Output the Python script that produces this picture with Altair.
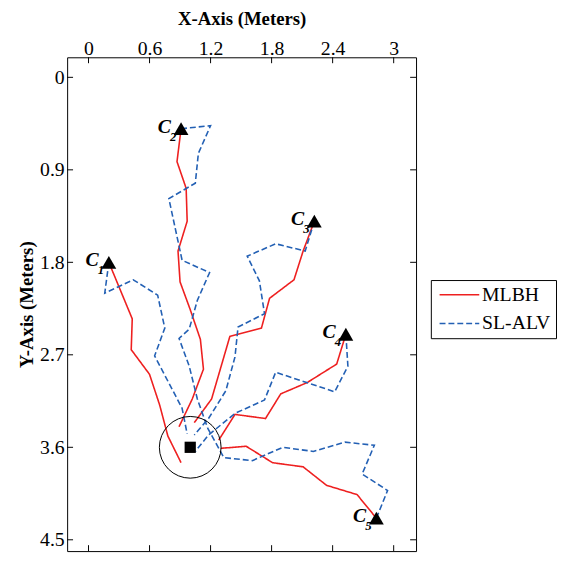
import altair as alt
import pandas as pd

# ---------------- data (meters) ----------------
X_TICKS = [0, 0.6, 1.2, 1.8, 2.4, 3]
Y_TICKS = [0, 0.9, 1.8, 2.7, 3.6, 4.5]

# MLBH paths (solid red)
mlbh_c1_x = [0.20, 0.43, 0.42, 0.60, 0.70, 0.78, 0.91]
mlbh_c1_y = [1.80, 2.35, 2.65, 2.89, 3.19, 3.49, 3.75]
mlbh_c2_x = [0.91, 0.87, 0.96, 0.97, 0.88, 0.90, 1.00, 1.10, 1.13, 1.02, 0.89]
mlbh_c2_y = [0.50, 0.82, 1.08, 1.40, 1.69, 1.99, 2.26, 2.55, 2.84, 3.13, 3.40]
mlbh_c3_x = [2.22, 2.11, 2.02, 1.78, 1.70, 1.39, 1.21, 1.04]
mlbh_c3_y = [1.40, 1.69, 1.97, 2.15, 2.44, 2.52, 3.13, 3.36]
mlbh_c4_x = [2.53, 2.44, 2.15, 1.89, 1.74, 1.44, 1.28]
mlbh_c4_y = [2.50, 2.79, 2.97, 3.08, 3.32, 3.28, 3.53]
mlbh_c5_x = [2.83, 2.64, 2.34, 2.11, 1.81, 1.55, 1.30]
mlbh_c5_y = [4.29, 4.06, 3.97, 3.79, 3.75, 3.59, 3.61]

# SL-ALV paths (dashed blue)
slalv_c1_x = [0.20, 0.16, 0.44, 0.68, 0.75, 0.65, 0.92, 0.97]
slalv_c1_y = [1.80, 2.10, 1.97, 2.12, 2.44, 2.71, 3.22, 3.47]
slalv_c2_x = [0.91, 1.20, 1.08, 1.05, 0.79, 0.92, 1.19, 1.07, 0.99, 0.89, 0.99, 1.07, 1.17]
slalv_c2_y = [0.50, 0.47, 0.74, 1.03, 1.18, 1.78, 1.90, 2.17, 2.45, 2.54, 2.81, 3.13, 3.41]
slalv_c3_x = [2.22, 2.13, 1.84, 1.56, 1.68, 1.73, 1.47, 1.44, 1.35, 1.18, 1.04]
slalv_c3_y = [1.40, 1.69, 1.62, 1.74, 1.98, 2.30, 2.43, 2.72, 3.05, 3.32, 3.48]
slalv_c4_x = [2.53, 2.55, 2.42, 1.84, 1.73, 1.44, 1.18, 1.05]
slalv_c4_y = [2.50, 2.81, 3.06, 2.87, 3.14, 3.27, 3.48, 3.64]
slalv_c5_x = [2.83, 2.94, 2.69, 2.81, 2.52, 2.21, 1.91, 1.61, 1.33, 1.17]
slalv_c5_y = [4.29, 4.02, 3.86, 3.58, 3.55, 3.64, 3.60, 3.73, 3.70, 3.41]

start_x = [0.20, 0.91, 2.22, 2.53, 2.83]
start_y = [1.80, 0.50, 1.40, 2.50, 4.29]
start_sub = ["1", "2", "3", "4", "5"]

goal_x = [1.0]
goal_y = [3.6]

METHODS = ["MLBH", "SL-ALV"]
COLORS = ["#ee2020", "#2360b4"]
FONT = "Liberation Serif"

# ---------------- tables ----------------
paths = {
    "MLBH": [(mlbh_c1_x, mlbh_c1_y), (mlbh_c2_x, mlbh_c2_y), (mlbh_c3_x, mlbh_c3_y),
             (mlbh_c4_x, mlbh_c4_y), (mlbh_c5_x, mlbh_c5_y)],
    "SL-ALV": [(slalv_c1_x, slalv_c1_y), (slalv_c2_x, slalv_c2_y), (slalv_c3_x, slalv_c3_y),
               (slalv_c4_x, slalv_c4_y), (slalv_c5_x, slalv_c5_y)],
}
rows = []
for m in METHODS:
    for i, (px, py) in enumerate(paths[m]):
        for k, (a, b) in enumerate(zip(px, py)):
            rows.append({"x": a, "y": b, "method": m, "path": f"{m}-{i}", "k": k})
lines_df = pd.DataFrame(rows)
starts_df = pd.DataFrame({"x": start_x, "y": start_y, "sub": start_sub})
goal_df = pd.DataFrame({"x": goal_x, "y": goal_y})
xt_df = pd.DataFrame({"x": X_TICKS})
yt_df = pd.DataFrame({"y": Y_TICKS})

W, H = 354, 501
xs = alt.Scale(domain=[-0.21, 3.22], nice=False, zero=False)
ys = alt.Scale(domain=[-0.195, 4.61], nice=False, zero=False, reverse=True)

x_axis = alt.Axis(orient="top", values=X_TICKS, format=".2~g", ticks=False, domain=False, grid=False,
                  labelPadding=3, labelBaseline="alphabetic", labelFont=FONT, labelFontSize=20,
                  labelColor="black", labelFlush=False, labelOverlap=False,
                  title="X-Axis (Meters)", titleFont=FONT, titleFontSize=19, titleFontWeight="bold",
                  titleColor="black", titleBaseline="alphabetic", titleY=-33)
y_axis = alt.Axis(orient="left", values=Y_TICKS, format=".2~g", ticks=False, domain=False, grid=False,
                  labelPadding=3, labelFont=FONT, labelFontSize=20, labelColor="black",
                  labelFlush=False, labelOverlap=False,
                  title="Y-Axis (Meters)", titleFont=FONT, titleFontSize=19, titleFontWeight="bold",
                  titleColor="black", titleBaseline="alphabetic", titleAngle=270,
                  titleX=-35, titleY=H / 2)


def X():
    return alt.X("x:Q", scale=xs, axis=x_axis, title="X-Axis (Meters)")


def Y():
    return alt.Y("y:Q", scale=ys, axis=y_axis, title="Y-Axis (Meters)")


legend = alt.Legend(title=None, orient="none", legendX=369, legendY=226,
                    symbolType="M-3,0H3", symbolSize=180, symbolStrokeWidth=1.6,
                    symbolFillColor="transparent",
                    symbolOffset=14, labelOffset=13, labelFont=FONT, labelFontSize=20,
                    labelColor="black", padding=5, rowPadding=9,
                    strokeColor="black", fillColor="white")

lines = alt.Chart(lines_df).mark_line(strokeWidth=1.6).encode(
    x=X(), y=Y(),
    color=alt.Color("method:N", scale=alt.Scale(domain=METHODS, range=COLORS), legend=legend),
    strokeDash=alt.StrokeDash("method:N", scale=alt.Scale(domain=METHODS, range=[[1, 0], [6, 3]]),
                              legend=legend),
    detail="path:N",
    order="k:Q",
)

circle = alt.Chart(goal_df).mark_point(shape="circle", size=3920, filled=False,
                                       stroke="black", strokeWidth=1, opacity=1).encode(x=X(), y=Y())
square = alt.Chart(goal_df).mark_point(shape="square", size=130, filled=True,
                                       color="black", opacity=1).encode(x=X(), y=Y())
tri = alt.Chart(starts_df).mark_point(shape="triangle-up", size=225, filled=True,
                                      color="black", opacity=1).encode(x=X(), y=Y())
c_txt = alt.Chart(starts_df).mark_text(text="C", font=FONT, fontSize=20, fontStyle="italic",
                                       fontWeight="bold", color="black", dx=-17, dy=-2,
                                       align="center", baseline="middle").encode(x=X(), y=Y())
sub_txt = alt.Chart(starts_df).mark_text(font=FONT, fontSize=13, fontStyle="italic",
                                         fontWeight="bold", color="black", dx=-8, dy=8,
                                         align="center", baseline="middle").encode(
    x=X(), y=Y(), text="sub:N")

tick_l = alt.Chart(yt_df).mark_rule(color="black", strokeWidth=1).encode(
    y=Y(), x=alt.value(0), x2=alt.value(6))
tick_r = alt.Chart(yt_df).mark_rule(color="black", strokeWidth=1).encode(
    y=Y(), x=alt.value(W), x2=alt.value(W - 6))
tick_t = alt.Chart(xt_df).mark_rule(color="black", strokeWidth=1).encode(
    x=X(), y=alt.value(0), y2=alt.value(6))
tick_b = alt.Chart(xt_df).mark_rule(color="black", strokeWidth=1).encode(
    x=X(), y=alt.value(H), y2=alt.value(H - 6))

chart = alt.layer(lines, circle, square, tri, c_txt, sub_txt, tick_l, tick_r, tick_t, tick_b).properties(
    width=W, height=H,
    padding={"left": 60, "top": 46, "right": 143, "bottom": 4},
    autosize=alt.AutoSizeParams(type="none"),
).configure(font=FONT, view=alt.ViewConfig(stroke="black", strokeWidth=1))

chart.save("out.html", embed_options={"renderer": "svg", "actions": False})
